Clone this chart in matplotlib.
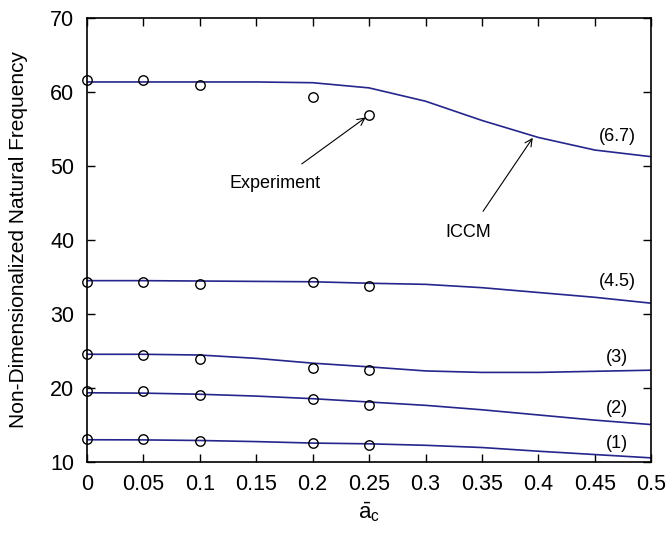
import matplotlib
matplotlib.use("Agg")
import matplotlib.pyplot as plt

plt.rcParams['font.family'] = ['Liberation Sans', 'DejaVu Sans']
plt.rcParams['mathtext.fontset'] = 'custom'
plt.rcParams['mathtext.rm'] = 'Liberation Sans'
plt.rcParams['mathtext.it'] = 'Liberation Sans:italic'

# ICCM curves
x_line = [0, 0.05, 0.1, 0.15, 0.2, 0.25, 0.3, 0.35, 0.4, 0.45, 0.5]
iccm_1 = [12.95, 12.93, 12.85, 12.7, 12.5, 12.4, 12.2, 11.9, 11.4, 10.95, 10.5]
iccm_2 = [19.3, 19.25, 19.1, 18.85, 18.5, 18.05, 17.6, 17.0, 16.3, 15.6, 15.0]
iccm_3 = [24.5, 24.5, 24.4, 23.95, 23.3, 22.8, 22.25, 22.05, 22.05, 22.2, 22.35]
iccm_45 = [34.45, 34.45, 34.4, 34.35, 34.3, 34.1, 33.95, 33.5, 32.85, 32.2, 31.4]
iccm_67 = [61.3, 61.3, 61.3, 61.3, 61.2, 60.5, 58.7, 56.1, 53.8, 52.1, 51.2]

# experiment points
x_exp = [0, 0.05, 0.1, 0.2, 0.25]
exp_1 = [13.0, 13.0, 12.8, 12.5, 12.2]
exp_2 = [19.5, 19.5, 19.0, 18.4, 17.6]
exp_3 = [24.6, 24.4, 23.8, 22.7, 22.4]
exp_45 = [34.3, 34.3, 34.0, 34.3, 33.7]
exp_67 = [61.5, 61.5, 60.9, 59.3, 56.9]

labels = ["(1)", "(2)", "(3)", "(4.5)", "(6.7)"]
label_y = [12.4, 17.2, 24.1, 34.4, 53.9]

fig = plt.figure(figsize=(6.68, 5.33), dpi=100)
ax = fig.add_axes([0.130, 0.134, 0.845, 0.833])

line_col = '#25258c'
for y in [iccm_1, iccm_2, iccm_3, iccm_45, iccm_67]:
    ax.plot(x_line, y, color=line_col, lw=1.2)
for y in [exp_1, exp_2, exp_3, exp_45, exp_67]:
    ax.plot(x_exp, y, 'o', mfc='none', mec='black', ms=6.8, mew=1.0, clip_on=False)

for lab, ly in zip(labels, label_y):
    ax.text(0.47, ly, lab, fontsize=13, ha='center', va='center')

ax.annotate("Experiment", xy=(0.247, 56.5), xytext=(0.1667, 47.6),
            fontsize=13, ha='center', va='center',
            arrowprops=dict(arrowstyle='->', color='black', lw=0.8,
                            shrinkA=10, shrinkB=0))
ax.annotate("ICCM", xy=(0.395, 53.75), xytext=(0.338, 40.9),
            fontsize=13, ha='center', va='center',
            arrowprops=dict(arrowstyle='->', color='black', lw=0.8,
                            shrinkA=9, shrinkB=0))

ax.set_xlim(0, 0.5)
ax.set_ylim(10, 70)
ax.set_xticks([0, 0.05, 0.1, 0.15, 0.2, 0.25, 0.3, 0.35, 0.4, 0.45, 0.5])
ax.set_xticklabels(["0", "0.05", "0.1", "0.15", "0.2", "0.25", "0.3", "0.35", "0.4", "0.45", "0.5"])
ax.set_yticks([10, 20, 30, 40, 50, 60, 70])
ax.tick_params(direction='in', top=True, right=True, labelsize=15.5, length=6, width=1, pad=9)
for s in ax.spines.values():
    s.set_linewidth(1.2)

ax.set_xlabel(r'$\bar{\mathrm{a}}_\mathrm{c}$', fontsize=16, labelpad=4)
ax.set_ylabel("Non-Dimensionalized Natural Frequency", fontsize=15, labelpad=16)

fig.savefig("out.png", dpi=100)
